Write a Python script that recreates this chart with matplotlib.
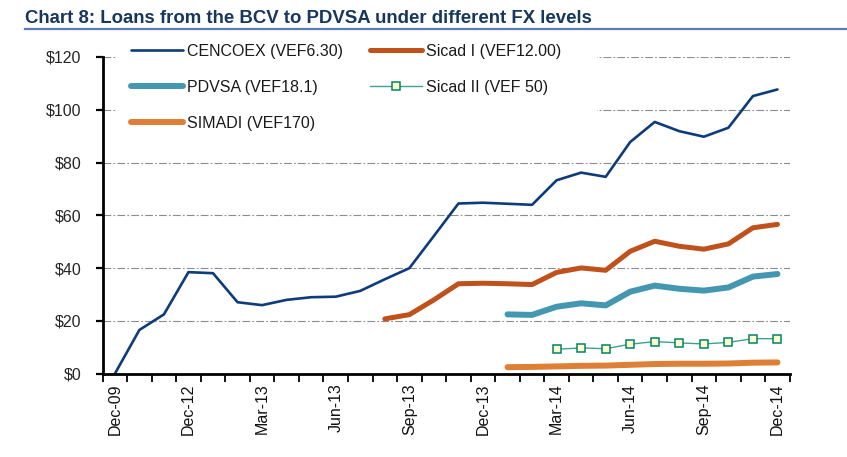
import numpy as np
import matplotlib
matplotlib.use('Agg')
import matplotlib.pyplot as plt
from matplotlib.lines import Line2D
from matplotlib.patches import Rectangle

plt.rcParams['font.family'] = ['Liberation Sans', 'DejaVu Sans']

nan = np.nan

months = ['Jan', 'Feb', 'Mar', 'Apr', 'May', 'Jun', 'Jul', 'Aug', 'Sep', 'Oct', 'Nov', 'Dec']
categories = ['Dec-09', 'Dec-10', 'Dec-11', 'Dec-12']
for yr in ['13', '14']:
    for m in months:
        categories.append(m + '-' + yr)

cencoex = [0, 16.6, 22.5, 38.5, 38.1, 27.1, 26.0, 28.0, 29.0, 29.2, 31.4, 35.8, 40.0, 52.2,
           64.5, 64.8, 64.4, 64.0, 73.3, 76.2, 74.6, 87.8, 95.4, 91.9, 89.8, 93.2, 105.2, 107.7]
sicad1 = [nan] * 11 + [20.8, 22.4, 28.0, 34.1, 34.3, 34.1, 33.8, 38.4, 40.1, 39.2, 46.4,
                       50.2, 48.3, 47.2, 49.2, 55.3, 56.6]
pdvsa = [nan] * 16 + [22.5, 22.3, 25.4, 26.7, 25.9, 31.1, 33.4, 32.2, 31.5, 32.7, 36.8, 37.8]
sicad2 = [nan] * 18 + [9.3, 9.8, 9.5, 11.2, 12.2, 11.7, 11.3, 11.9, 13.3, 13.3]
simadi = [nan] * 16 + [2.5, 2.6, 2.8, 3.0, 3.1, 3.4, 3.7, 3.8, 3.8, 3.9, 4.2, 4.3]

yticks = [0, 20, 40, 60, 80, 100, 120]

x = np.arange(len(categories))

fig = plt.figure(figsize=(8.47, 4.57), dpi=100)
ax = fig.add_axes([0.1211, 0.1821, 0.8113, 0.6932])

ax.plot(x, cencoex, color='#0D3B7C', lw=1.9, label='CENCOEX (VEF6.30)', solid_capstyle='round')
ax.plot(x, pdvsa, color='#4397B1', lw=4.3, label='PDVSA (VEF18.1)', solid_capstyle='round')
ax.plot(x, simadi, color='#DE7F35', lw=4.3, label='SIMADI (VEF170)', solid_capstyle='round')
ax.plot(x, sicad1, color='#C0511B', lw=3.6, label='Sicad I (VEF12.00)', solid_capstyle='round')
ax.plot(x, sicad2, color='#3FA08F', lw=1.0, marker='s', ms=5.5, mfc='#FFFFCC',
        mec='#00836B', mew=1.1, label='Sicad II (VEF 50)')

ax.set_xlim(-0.5, len(categories) - 0.5)
ax.set_ylim(0, 120)
ax.set_yticks(yticks)
ax.set_yticklabels(['$%d' % v for v in yticks], fontsize=11.5, color='#262626')

ax.set_xticks(x[::3])
ax.set_xticklabels(categories[::3], rotation=90, fontsize=11.5, color='#111111')
ax.set_xticks(np.arange(len(categories) + 1) - 0.5, minor=True)
ax.tick_params(axis='x', which='major', length=0, pad=7)
ax.tick_params(axis='x', which='minor', length=6, width=1.3, direction='out', color='black')
ax.tick_params(axis='y', length=5, width=1.6, direction='out', color='black', pad=10)

for s in ['top', 'right']:
    ax.spines[s].set_visible(False)
ax.spines['left'].set_linewidth(2)
ax.spines['bottom'].set_linewidth(2)

ax.grid(axis='y', color='#8C8C8C', lw=0.8, linestyle=(0, (7, 2, 1.5, 2)))
ax.set_axisbelow(True)

# white legend area hiding the top gridlines
ax.add_patch(Rectangle((117 / 847, 1 - 140 / 457), 480 / 847, 105 / 457,
                       transform=fig.transFigure, facecolor='white', edgecolor='none',
                       zorder=1.5, clip_on=False))

leg = ax.legend(loc='upper left', bbox_to_anchor=(113 / 847, 1 - 26 / 457),
                bbox_transform=fig.transFigure, ncol=2, fontsize=11.5,
                frameon=False, borderpad=0.6, handlelength=3.3,
                handletextpad=0.25, columnspacing=1.66, labelspacing=1.32)
for t in leg.get_texts():
    t.set_color('#1a1a1a')

fig.text(25 / 847, 1 - 22.7 / 457, 'Chart 8: Loans from the BCV to PDVSA under different FX levels',
         fontsize=13.4, fontweight='bold', color='#17375E', va='baseline')
fig.add_artist(Line2D([25 / 847, 1.0], [1 - 28.5 / 457, 1 - 28.5 / 457],
                      transform=fig.transFigure, color='#5A7DB5', lw=1.6))

fig.savefig('out.png', dpi=100)
